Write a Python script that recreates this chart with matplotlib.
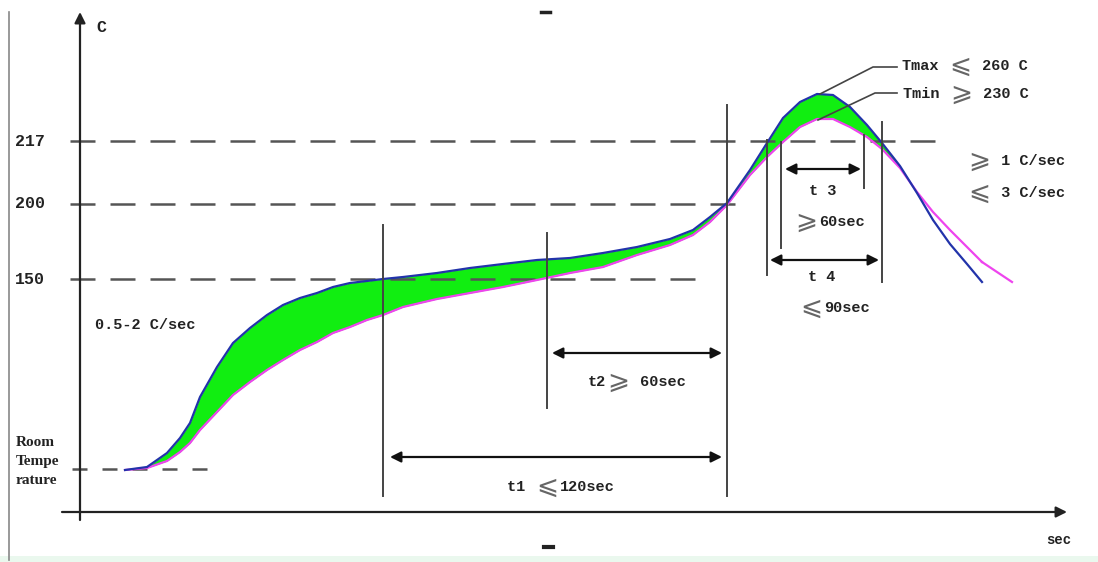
"""
Reflow soldering temperature profile (schematic)
"""
import numpy
import matplotlib
matplotlib.use('Agg')
import matplotlib.pyplot as plt
from matplotlib.offsetbox import TextArea, HPacker, AnnotationBbox

# curve samples (x = time in px, y = temperature in px, y grows downward)
time_px = [125, 147, 167, 180, 190, 200, 217, 233, 250, 267, 283, 300, 317, 333, 350,
           367, 383, 403, 437, 470, 503, 537, 570, 603, 637, 670, 693, 710, 727, 750,
           767, 783, 800, 817, 833, 850, 867, 882, 900, 917, 933, 950, 967, 982]
t_max_px = [470, 467, 453, 438, 423, 397, 367, 343, 328, 315, 305, 298, 293, 287, 283,
            281, 279, 277, 273, 268, 264, 260, 258, 253, 247, 239, 230, 217, 203, 170,
            143, 118, 102, 94, 95, 107, 125, 143, 166, 193, 220, 244, 264, 282]
t_min_px = [470, 468, 461, 452, 443, 430, 412, 395, 382, 370, 360, 350, 342, 333, 327,
            320, 315, 307, 299, 293, 287, 280, 273, 267, 255, 245, 235, 222, 205, 175,
            157, 142, 127, 119, 119, 127, 137, 149, 168, 192, 212, 230, 247, 262]
t_min_tail_x = [982, 997, 1012]
t_min_tail_y = [262, 272, 282]

# temperature levels and their dashed guides
level_labels = ['217', '200', '150']
level_y = [141, 204, 279]
level_end = [948, 745, 708]
room_y = 469

GRAY = '#555555'
DARK = '#222222'
MONO = ['Liberation Mono', 'DejaVu Sans']
SYM = ['DejaVu Sans']


def label(ax, xy, parts, ha=0.5):
  """parts: list of (text, is_symbol)"""
  kids = []
  for text, sym in parts:
    if sym:
      props = dict(family=SYM, size=19, color='#666666')
    else:
      props = dict(family=MONO, size=11, weight='bold', color=DARK)
    kids.append(TextArea(text, textprops=props))
  box = HPacker(children=kids, align='center', pad=0, sep=1)
  ab = AnnotationBbox(box, xy, xycoords='data', frameon=False,
                      box_alignment=(ha, 0.5), pad=0)
  ax.add_artist(ab)


def darrow(ax, x0, x1, y):
  ax.annotate('', xy=(x1, y), xytext=(x0, y),
              arrowprops=dict(arrowstyle='<|-|>', color='#111111', lw=1.6,
                              mutation_scale=16, shrinkA=0, shrinkB=0))


fig = plt.figure(figsize=(10.98, 5.62), dpi=100)
ax = fig.add_axes([0, 0, 1, 1])
ax.set_xlim(0, 1098)
ax.set_ylim(562, 0)
ax.axis('off')

# frame bits
ax.plot([9, 9], [12, 560], color='#888888', lw=1.2)
ax.axhspan(556, 562, color='#eaf8ee', lw=0)
ax.plot([541, 550], [12, 12], color='#222222', lw=2.5)
ax.plot([544, 553], [547, 547], color='#222222', lw=3)

# axes with arrows
ax.annotate('', xy=(80, 12), xytext=(80, 520),
            arrowprops=dict(arrowstyle='-|>', color='#222222', lw=1.6,
                            mutation_scale=16, shrinkA=0, shrinkB=0))
ax.annotate('', xy=(1067, 512), xytext=(62, 512),
            arrowprops=dict(arrowstyle='-|>', color='#222222', lw=1.6,
                            mutation_scale=16, shrinkA=0, shrinkB=0))
ax.text(96, 27, 'C', family=MONO, size=12, weight='bold', color=DARK, va='center')
ax.text(1059, 540, 'sec', family=MONO, size=10, weight='bold', color=DARK,
        ha='center', va='center')

# dashed levels
for lab, y, xe in zip(level_labels, level_y, level_end):
  ax.plot([70, xe], [y, y], color=GRAY, lw=1.8, dashes=(10, 6))
  ax.text(15, y, lab, family=MONO, size=12, weight='bold', color=DARK, va='center')
ax.plot([72, 207], [room_y, room_y], color=GRAY, lw=1.8, dashes=(6, 6))
for i, word in enumerate(['Room', 'Tempe', 'rature']):
  ax.text(16, 442 + i * 19, word, family=['Liberation Serif'], size=11,
          weight='bold', color=DARK, va='center')

# profile
xs = numpy.array(time_px)
up = numpy.array(t_max_px)
lo = numpy.array(t_min_px)
ax.fill_between(xs, up, lo, where=up <= lo, color='#11ee11', lw=0, interpolate=True)
ax.plot(xs, lo, color='#ee44ee', lw=1.6)
ax.plot(t_min_tail_x, t_min_tail_y, color='#ee44ee', lw=1.6)
ax.plot(xs, up, color='#2233aa', lw=1.6)

# vertical markers
for x, y0, y1 in [(383, 225, 496), (547, 233, 408), (727, 105, 496),
                  (767, 140, 275), (781, 142, 248), (864, 135, 188), (882, 122, 282)]:
  ax.plot([x, x], [y0, y1], color='#444444', lw=1.4)

# time spans
darrow(ax, 390, 722, 457)
darrow(ax, 552, 722, 353)
darrow(ax, 785, 861, 169)
darrow(ax, 770, 879, 260)

# leader lines for peak
ax.plot([897, 873, 820], [67, 67, 94], color='#444444', lw=1.2)
ax.plot([897, 875, 818], [93, 93, 120], color='#444444', lw=1.2)

# annotations
label(ax, (145, 325), [('0.5-2 C/sec', False)])
label(ax, (561, 487), [('t1 ', False), ('⩽', True), ('120sec', False)])
label(ax, (637, 382), [('t2', False), ('⩾', True), (' 60sec', False)])
label(ax, (823, 191), [('t 3', False)])
label(ax, (830, 222), [('⩾', True), ('60sec', False)])
label(ax, (822, 277), [('t 4', False)])
label(ax, (835, 308), [('⩽', True), ('90sec', False)])
label(ax, (968, 161), [('⩾', True), (' 1 C/sec', False)], ha=0)
label(ax, (968, 193), [('⩽', True), (' 3 C/sec', False)], ha=0)
label(ax, (902, 66), [('Tmax ', False), ('⩽', True), (' 260 C', False)], ha=0)
label(ax, (903, 94), [('Tmin ', False), ('⩾', True), (' 230 C', False)], ha=0)

fig.savefig('out.png', dpi=100)
plt.close(fig)
